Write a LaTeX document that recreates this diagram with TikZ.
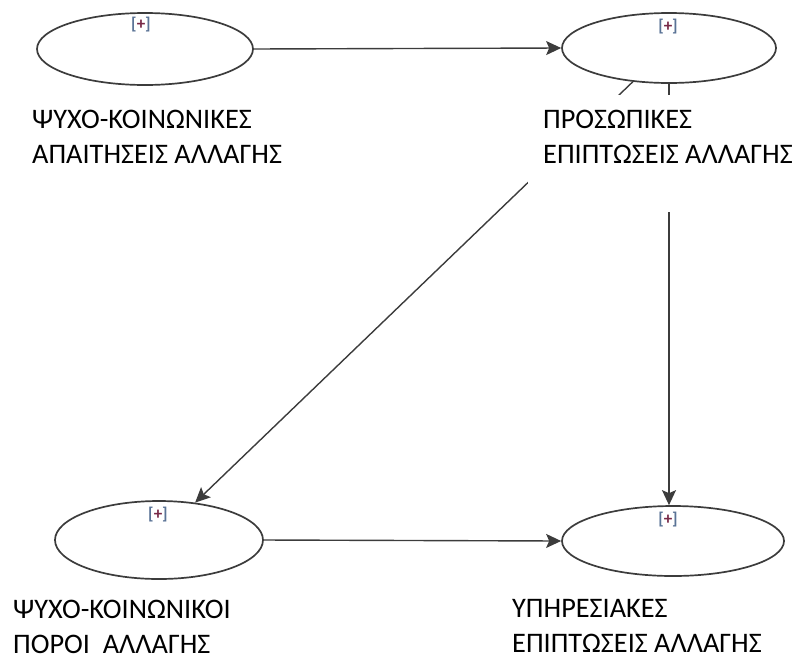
\documentclass[tikz,border=0pt]{standalone}
\usepackage{fontspec}
\setmainfont{Carlito}
\usetikzlibrary{shapes.geometric,arrows.meta}
\definecolor{edgegray}{RGB}{60,60,60}
\definecolor{bracketblue}{RGB}{90,115,150}
\definecolor{plusred}{RGB}{120,40,70}
\begin{document}
\begin{tikzpicture}[x=1pt,y=-1pt,
  construct/.style={ellipse,draw=edgegray,line width=1.7pt,inner sep=0pt,fill=white},
  path/.style={draw=edgegray,line width=1.4pt,-{Stealth[length=15pt,width=14pt,inset=3pt]}},
  caption/.style={anchor=north west,inner sep=0pt,align=left,
    font=\fontsize{28.3}{35}\selectfont,text=black},
  toggle/.style={inner sep=0pt,font=\fontsize{17}{17}\selectfont\bfseries},
  mask/.style={fill=white,inner sep=0pt,anchor=north west}]
\useasboundingbox (0,0) rectangle (799,659);

% latent constructs
\node[construct,minimum width=216pt,minimum height=72pt] (e1) at (145,49) {};
\node[construct,minimum width=214pt,minimum height=70pt] (e2) at (669,48) {};
\node[construct,minimum width=208pt,minimum height=78pt] (e3) at (159,540) {};
\node[construct,minimum width=222pt,minimum height=70pt] (e4) at (673,541) {};

% expand markers
\node[toggle] (t1) at (141,25) {\textcolor{bracketblue}{[}\textcolor{plusred}{+}\textcolor{bracketblue}{]}};
\node[toggle] (t2) at (668,27) {\textcolor{bracketblue}{[}\textcolor{plusred}{+}\textcolor{bracketblue}{]}};
\node[toggle] (t3) at (158,515) {\textcolor{bracketblue}{[}\textcolor{plusred}{+}\textcolor{bracketblue}{]}};
\node[toggle] (t4) at (668,520) {\textcolor{bracketblue}{[}\textcolor{plusred}{+}\textcolor{bracketblue}{]}};

% structural paths
\draw[path] (e1.east) -- (e2.west);
\draw[path] (e2.223) -- (e3.46);
\draw[path] (e2.south) -- (e2.south |- e4.north);
\draw[path] (e3.east) -- (e4.west);

% white panel under the upper right caption
\node[mask,minimum width=271pt,minimum height=117pt] (panel) at (528,95) {};

% construct names
\node[caption] (c1) at (32,110) {ΨΥΧΟ-ΚΟΙΝΩΝΙΚΕΣ\\ΑΠΑΙΤΗΣΕΙΣ ΑΛΛΑΓΗΣ};
\node[caption] (c2) at (543,110) {ΠΡΟΣΩΠΙΚΕΣ\\ΕΠΙΠΤΩΣΕΙΣ ΑΛΛΑΓΗΣ};
\node[caption] (c3) at (13,600) {ΨΥΧΟ-ΚΟΙΝΩΝΙΚΟΙ\\ΠΟΡΟΙ\ \ ΑΛΛΑΓΗΣ};
\node[caption] (c4) at (512,599) {ΥΠΗΡΕΣΙΑΚΕΣ\\ΕΠΙΠΤΩΣΕΙΣ ΑΛΛΑΓΗΣ};
\end{tikzpicture}
\end{document}
